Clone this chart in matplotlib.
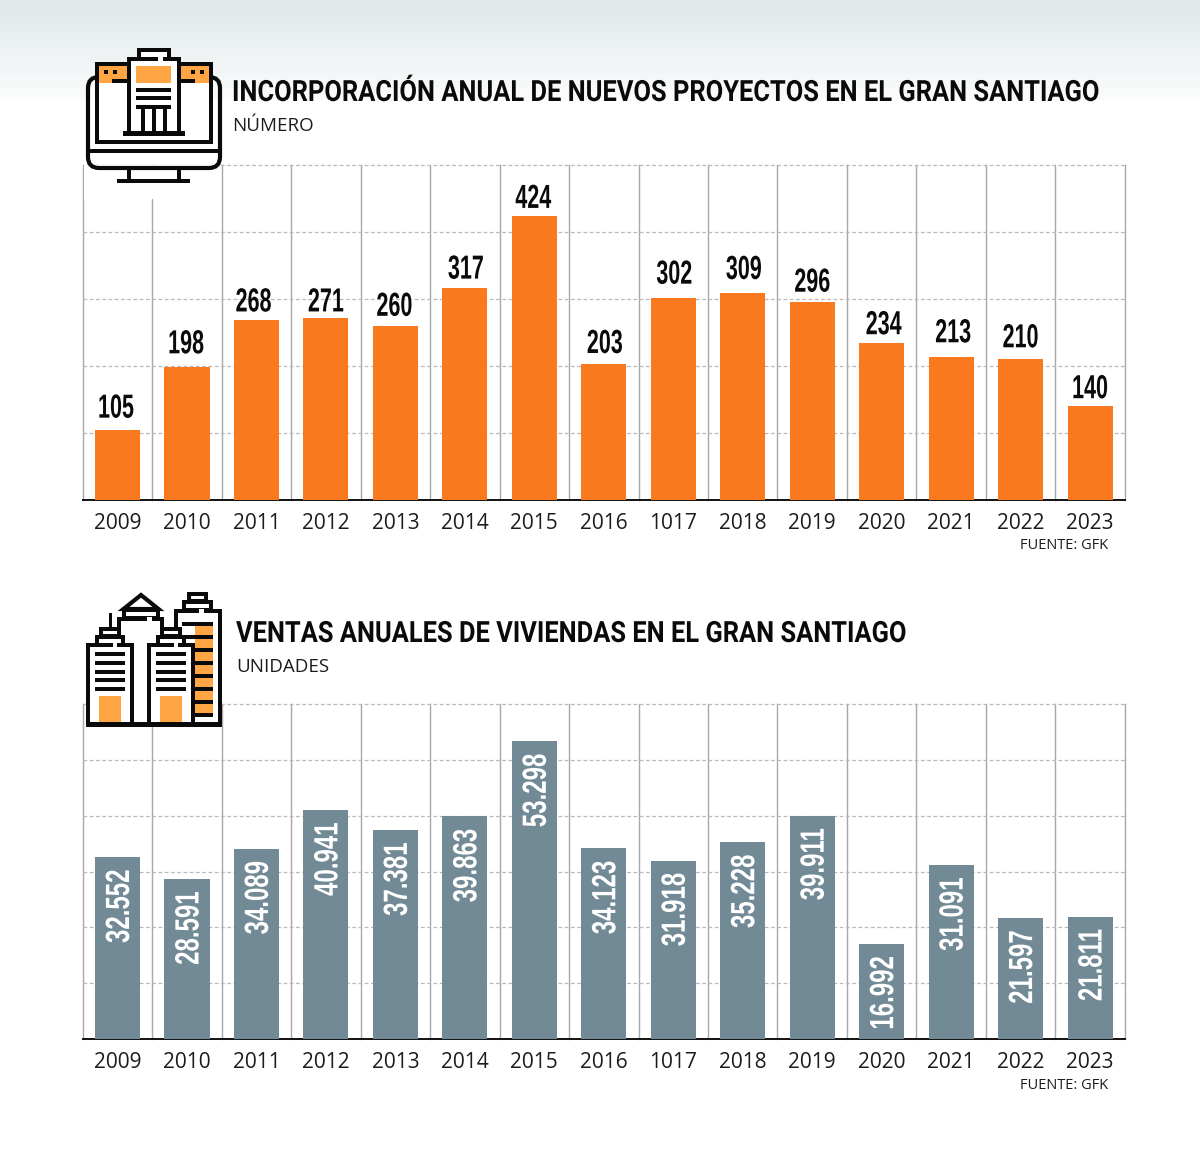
import matplotlib
matplotlib.use('Agg')
import matplotlib.pyplot as plt
import numpy as np
from matplotlib.colors import LinearSegmentedColormap
from matplotlib.patches import Rectangle, FancyBboxPatch, Polygon
from matplotlib.patheffects import AbstractPathEffect
from matplotlib.transforms import Affine2D

# Datos
years = ['2009', '2010', '2011', '2012', '2013', '2014', '2015', '2016',
         '1017', '2018', '2019', '2020', '2021', '2022', '2023']
proyectos = [105, 198, 268, 271, 260, 317, 424, 203, 302, 309, 296, 234, 213, 210, 140]
ventas = [32552, 28591, 34089, 40941, 37381, 39863, 53298, 34123,
          31918, 35228, 39911, 16992, 31091, 21597, 21811]

# Ajuste manual de las etiquetas de arriba, en pixeles
nudge_x = [-1.5, -1, -3, 0, -1, 1, -1, 1, 1, 1, 0, 2, 2, 0, 0]
nudge_y = [12, 14, 9, 7, 10, 9, 8, 11, 14, 14, 10, 9, 15, 12, 8]

ORANGE = '#fa781e'
GREY = '#728a96'
ICON = '#ffa544'
BLACK = '#0a0a0a'
W, H = 1200, 1161


# Estira el texto en alto desde la linea base (imita una fuente condensada)
class Tall(AbstractPathEffect):
    def __init__(self, sy):
        super().__init__()
        self.sy = sy

    def draw_path(self, renderer, gc, tpath, affine, rgbFace=None):
        renderer.draw_path(gc, tpath, Affine2D().scale(1, self.sy) + affine, rgbFace)


def px_axes(x0, y_top, x1, y_bottom, **kw):
    return fig.add_axes([x0 / W, 1 - y_bottom / H, (x1 - x0) / W, (y_bottom - y_top) / H], **kw)


def bar_chart(ax, values, color, ymax, step):
    x = np.arange(len(values))
    ax.bar(x, values, width=0.648, color=color, zorder=3)
    ax.set_xlim(-0.5, 14.5)
    ax.set_ylim(0, ymax)
    ax.set_yticks(np.arange(step, ymax + 1, step))
    ax.set_yticklabels([])
    ax.set_xticks(x)
    ax.set_xticklabels(years, fontsize=15, family='Open Sans', color='#1c1c1c')
    ax.set_xticks(np.arange(-0.5, 15), minor=True)
    ax.tick_params(axis='both', which='both', length=0)
    ax.tick_params(axis='x', which='major', pad=9.3)
    ax.grid(axis='y', color='#b9b9b9', lw=0.9, ls=(0, (3, 2)), zorder=1)
    ax.grid(axis='x', which='minor', color='#a8a8a8', lw=1.0, zorder=1)
    ax.set_axisbelow(True)
    for t in ax.xaxis.get_minor_ticks() + ax.yaxis.get_major_ticks():
        t.gridline.set_clip_on(False)
    for s in ['top', 'left', 'right']:
        ax.spines[s].set_visible(False)
    ax.spines['bottom'].set_color('#111111')
    ax.spines['bottom'].set_linewidth(1.4)
    ax.spines['bottom'].set_zorder(2)


fig = plt.figure(figsize=(W / 100, H / 100), dpi=100)

# Degradado de fondo
bg = px_axes(0, 0, W, 100, zorder=0)
cmap = LinearSegmentedColormap.from_list('fondo', ['#e0e8ea', '#fbfcfc'])
bg.imshow(np.linspace(0, 1, 100).reshape(-1, 1), aspect='auto', cmap=cmap)
bg.axis('off')

# Grafico superior
ax1 = px_axes(82.8, 165, 1124.8, 500, zorder=1, facecolor='none')
bar_chart(ax1, proyectos, ORANGE, 500, 100)
for i, v in enumerate(proyectos):
    ax1.annotate(str(v), (i, v), xytext=(nudge_x[i], nudge_y[i]), textcoords='offset pixels',
                 ha='center', va='baseline',
                 fontsize=15.5, family='Liberation Sans', fontweight='bold', color=BLACK,
                 path_effects=[Tall(1.55)])

# Grafico inferior
ax2 = px_axes(82.8, 704, 1124.8, 1039, zorder=1, facecolor='none')
bar_chart(ax2, ventas, GREY, 60000, 10000)
for i, v in enumerate(ventas):
    ax2.annotate(f'{v:,}'.replace(',', '.'), (i, v), xytext=(11.5, -12), textcoords='offset pixels',
                 ha='right', va='baseline', rotation=90, rotation_mode='anchor',
                 fontsize=17.3, family='Liberation Sans', fontweight='bold', color='white',
                 path_effects=[Tall(1.4)])

# Capa en pixeles para iconos y textos
ov = px_axes(0, 0, W, H, zorder=5, facecolor='none')
ov.set_xlim(0, W)
ov.set_ylim(H, 0)
ov.axis('off')


def rect(x0, y0, x1, y1, color=BLACK):
    ov.add_patch(Rectangle((x0, y0), x1 - x0, y1 - y0, fc=color, ec='none'))


def frame(x0, y0, x1, y1, t=4, fill='white'):
    rect(x0, y0, x1, y1)
    rect(x0 + t, y0 + t, x1 - t, y1 - t, fill)


# Icono monitor
rect(84, 165, 221, 199, 'white')
ov.add_patch(FancyBboxPatch((88, 77), 132, 91, boxstyle='round,pad=0,rounding_size=11',
                            fc='none', ec=BLACK, lw=3))
rect(88, 149, 220, 153)
rect(127, 170, 131, 181)
rect(177, 170, 181, 181)
rect(117, 179, 190, 183)
frame(95, 62, 213, 144)
rect(99, 66, 127, 83, ICON)
rect(180, 66, 209, 83, ICON)
for wx in (105.5, 115, 193, 201.5):
    rect(wx - 2, 70, wx + 2, 74)
rect(112, 79, 127, 83)
rect(180, 79, 195, 83)
frame(137, 48, 171, 62)
frame(127, 57, 181, 135)
rect(158, 57, 163, 61, 'white')
rect(136, 66, 171, 83, ICON)
for ly in (90, 98, 107):
    rect(136, ly - 2, 171, ly + 2)
for cx in (142.5, 154, 165):
    rect(cx - 2, 107, cx + 2, 133)
rect(123, 131, 185, 135.5)

# Icono edificios
rect(86, 704, 221, 722, 'white')
ov.add_patch(Polygon([(141, 595), (123.5, 609), (158.5, 609)], fc='white', ec=BLACK, lw=3, joinstyle='miter'))
frame(122, 608, 160, 620)
frame(117, 617, 164, 726)
rect(147, 617, 152, 621, 'white')
frame(187, 592, 208, 603)
frame(182, 600, 213, 612)
frame(174, 609, 222, 726)
rect(199, 609, 204, 613, 'white')
rect(182, 622, 213, 626)
rect(195, 626, 213, 716, ICON)
for k in range(1, 8):
    rect(182, 624 + 13 * k - 2, 213, 624 + 13 * k + 2)
for x0 in (86, 147):
    if x0 == 86:
        rect(x0 + 23, 613, x0 + 26, 628)
    frame(x0 + 13, 627, x0 + 35, 638)
    frame(x0 + 9, 635, x0 + 39, 647)
    frame(x0, 643, x0 + 48, 726)
    rect(x0 + 27, 643, x0 + 31, 647, 'white')
    for ly in (654, 663, 672, 680, 689):
        rect(x0 + 9, ly - 2, x0 + 39, ly + 2)
    rect(x0 + 13, 696, x0 + 35, 722, ICON)
rect(86, 722, 222, 726.5)

# Textos
title_kw = dict(family='Roboto', fontweight='bold', fontsize=18.33, color=BLACK, va='baseline',
                path_effects=[Tall(1.15)])
sub_kw = dict(family='Open Sans', fontsize=13.5, color='#1c1c1c', va='baseline')
src_kw = dict(family='Open Sans', fontsize=10.5, color='#1c1c1c', va='baseline', ha='right')
ov.text(232, 101, 'INCORPORACIÓN ANUAL DE NUEVOS PROYECTOS EN EL GRAN SANTIAGO', **title_kw)
ov.text(232, 131, 'NÚMERO', **sub_kw)
ov.text(1108, 549, 'FUENTE: GFK', **src_kw)
ov.text(236, 642, 'VENTAS ANUALES DE VIVIENDAS EN EL GRAN SANTIAGO', **title_kw)
ov.text(236, 672, 'UNIDADES', **sub_kw)
ov.text(1108, 1089, 'FUENTE: GFK', **src_kw)

fig.savefig('out.png', dpi=100)
